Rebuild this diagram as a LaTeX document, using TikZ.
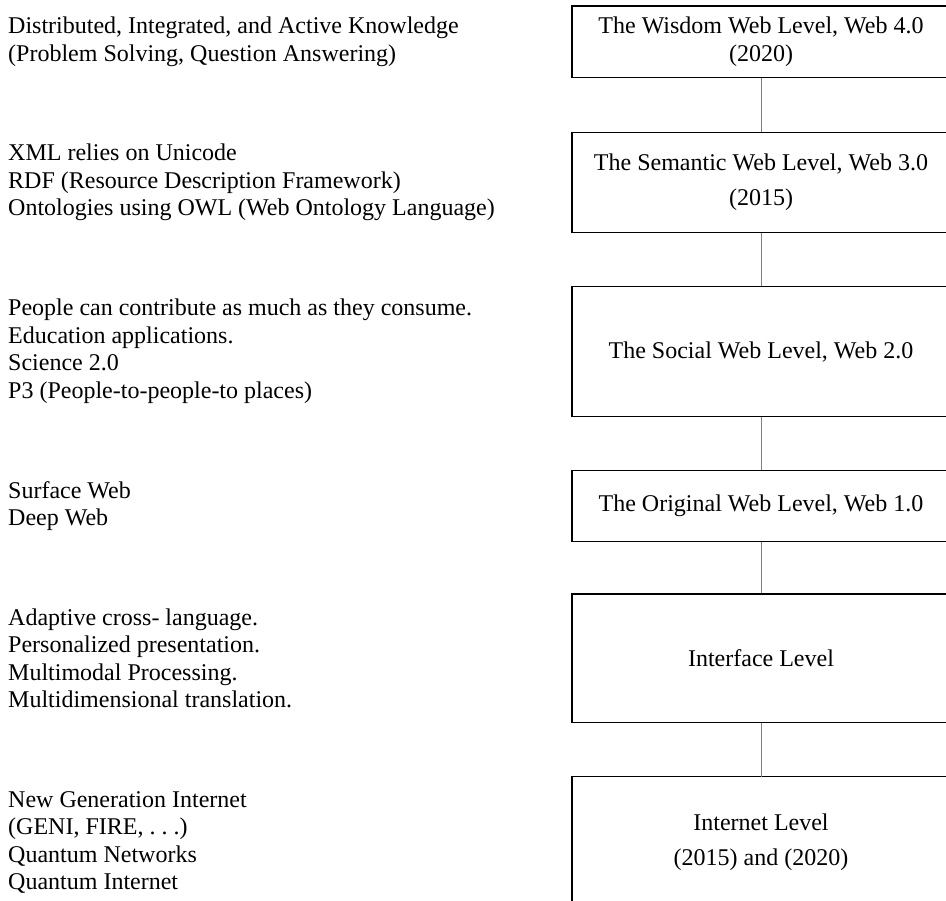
\documentclass[tikz,border=0pt]{standalone}
\usepackage{fontspec}
\setmainfont{Liberation Serif}
\usetikzlibrary{positioning}
\pgfdeclarelayer{nodelayer}
\pgfdeclarelayer{edgelayer}
\pgfsetlayers{nodelayer,edgelayer,main}
\tikzset{
  level/.style={draw, line width=1.3pt, minimum width=378pt, inner sep=0pt, align=center},
  note/.style={anchor=west, align=left, inner sep=0pt},
  link/.style={draw=black!50, line width=1pt}
}
\begin{document}
\begin{tikzpicture}[x=1pt, y=-1pt, font=\fontsize{24}{27.5}\selectfont]
  \clip (0,0) rectangle (946,901);
  \begin{pgfonlayer}{nodelayer}
    \node [level, minimum height=71.3pt] (wisdom) at (761, 41.7) {The Wisdom Web Level, Web 4.0\\[1pt](2020)};
    \node [level, minimum height=100.4pt] (semantic) at (761, 182.5) {The Semantic Web Level, Web 3.0\\[7.5pt](2015)};
    \node [level, minimum height=130pt] (social) at (761, 351.7) {The Social Web Level, Web 2.0};
    \node [level, minimum height=71pt] (original) at (761, 506.2) {The Original Web Level, Web 1.0};
    \node [level, minimum height=128.7pt] (interface) at (761, 658.4) {Interface Level};
    \node [align=center, inner sep=0pt] (internet) at (761, 842.5) {Internet Level\\[7.5pt](2015) and (2020)};
    \coordinate (internettop) at (761, 776.7);
    \node [note] (wisdomnote) at (8, 42) {Distributed, Integrated, and Active Knowledge\\(Problem Solving, Question Answering)};
    \node [note] (semanticnote) at (8, 182.5) {XML relies on Unicode\\RDF (Resource Description Framework)\\Ontologies using OWL (Web Ontology Language)};
    \node [note] (socialnote) at (8, 351.3) {People can contribute as much as they consume.\\Education applications.\\Science 2.0\\P3 (People-to-people-to places)};
    \node [note] (originalnote) at (8, 506) {Surface Web\\Deep Web};
    \node [note] (interfacenote) at (8, 658.4) {Adaptive cross- language.\\Personalized presentation.\\Multimodal Processing.\\Multidimensional translation.};
    \node [note] (internetnote) at (8, 842.5) {New Generation Internet\\(GENI, FIRE, .~.~.)\\Quantum Networks\\Quantum Internet};
  \end{pgfonlayer}
  \begin{pgfonlayer}{edgelayer}
    \draw [line width=1.3pt] (572, 915) -- (572, 776.7) -- (950, 776.7) -- (950, 915);
    \draw [link] (wisdom.south) to (semantic.north);
    \draw [link] (semantic.south) to (social.north);
    \draw [link] (social.south) to (original.north);
    \draw [link] (original.south) to (interface.north);
    \draw [link] (interface.south) to (internettop);
  \end{pgfonlayer}
\end{tikzpicture}
\end{document}
